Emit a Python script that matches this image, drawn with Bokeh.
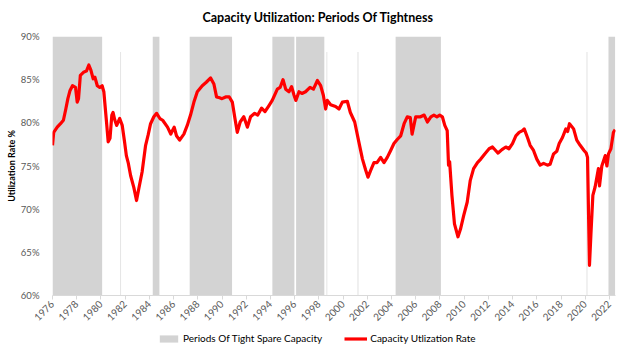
import math
from bokeh.plotting import figure
from bokeh.layouts import column
from bokeh.models import Range1d, FixedTicker, Legend, LegendItem, ColumnDataSource
from bokeh.embed import file_html
from bokeh.resources import INLINE

# ---------------- data ----------------
years = [
    1976.00, 1976.10, 1976.39, 1976.66, 1976.90, 1977.10, 1977.27, 1977.45, 1977.65, 1977.90,
    1978.04, 1978.15, 1978.30, 1978.60, 1978.80, 1979.00, 1979.17, 1979.36, 1979.50, 1979.70,
    1979.90, 1980.10, 1980.24, 1980.46, 1980.60, 1980.75, 1980.90, 1981.00, 1981.15, 1981.30,
    1981.55, 1981.76, 1981.95, 1982.10, 1982.25, 1982.45, 1982.72, 1982.94, 1983.13, 1983.40,
    1983.69, 1983.90, 1984.10, 1984.37, 1984.60, 1984.87, 1985.10, 1985.50, 1985.77, 1986.05,
    1986.24, 1986.50, 1986.85, 1987.13, 1987.40, 1987.68, 1987.96, 1988.37, 1988.70, 1989.06,
    1989.33, 1989.55, 1989.80, 1990.00, 1990.30, 1990.60, 1990.85, 1991.07, 1991.26, 1991.50,
    1991.80, 1992.10, 1992.36, 1992.70, 1992.95, 1993.27, 1993.55, 1993.88, 1994.15, 1994.57,
    1994.80, 1995.04, 1995.26, 1995.53, 1995.75, 1995.95, 1996.10, 1996.36, 1996.60, 1996.90,
    1997.27, 1997.55, 1997.88, 1998.15, 1998.37, 1998.56, 1998.70, 1998.97, 1999.38, 1999.66,
    1999.94, 2000.35, 2000.60, 2000.96, 2001.30, 2001.60, 2001.87, 2002.06, 2002.28, 2002.55,
    2002.80, 2003.10, 2003.38, 2003.65, 2003.93, 2004.20, 2004.49, 2004.76, 2005.04, 2005.30,
    2005.55, 2005.70, 2006.00, 2006.40, 2006.70, 2006.97, 2007.25, 2007.50, 2007.75, 2007.98,
    2008.20, 2008.40, 2008.60, 2008.71, 2008.80, 2008.99, 2009.20, 2009.49, 2009.70, 2009.97,
    2010.25, 2010.50, 2010.78, 2011.10, 2011.37, 2011.70, 2012.06, 2012.34, 2012.60, 2012.80,
    2013.12, 2013.44, 2013.70, 2013.99, 2014.27, 2014.54, 2014.82, 2014.96, 2015.23, 2015.45,
    2015.73, 2016.00, 2016.28, 2016.56, 2016.88, 2017.10, 2017.38, 2017.65, 2017.85, 2018.12,
    2018.40, 2018.55, 2018.70, 2019.04, 2019.30, 2019.58, 2019.90, 2020.08, 2020.19, 2020.35,
    2020.47, 2020.63, 2020.82, 2021.09, 2021.18, 2021.37, 2021.65, 2021.79, 2021.92, 2022.12,
    2022.33, 2022.47,
]
utilization = [
    77.4, 78.9, 79.5, 79.9, 80.3, 81.6, 82.8, 83.75, 84.3, 84.1,
    82.4, 82.8, 85.5, 85.9, 86.0, 86.7, 86.1, 85.1, 85.3, 84.3,
    84.1, 84.3, 83.6, 80.1, 77.8, 78.2, 80.9, 81.2, 80.3, 79.7,
    80.5, 79.7, 77.8, 76.2, 75.4, 73.9, 72.5, 71.0, 72.4, 74.3,
    77.4, 78.6, 79.9, 80.7, 81.1, 80.5, 80.3, 79.5, 78.7, 79.5,
    78.5, 78.0, 78.7, 79.7, 80.9, 82.4, 83.6, 84.3, 84.7, 85.2,
    84.5, 83.0, 82.9, 82.8, 83.0, 83.0, 82.4, 80.5, 78.9, 80.1,
    80.7, 79.5, 80.7, 81.1, 80.9, 81.7, 81.3, 82.0, 82.6, 83.9,
    84.1, 85.0, 83.9, 83.6, 84.2, 83.2, 82.6, 83.6, 83.4, 83.6,
    84.1, 83.9, 84.9, 84.3, 83.2, 81.6, 82.6, 82.1, 81.9, 81.6,
    82.4, 82.5, 81.2, 80.1, 77.8, 75.8, 74.5, 73.7, 74.5, 75.4,
    75.4, 76.0, 75.4, 76.0, 76.8, 77.6, 78.1, 78.5, 79.9, 80.7,
    80.6, 78.7, 80.7, 80.7, 80.9, 80.1, 80.7, 80.9, 80.7, 80.9,
    80.7, 79.7, 79.1, 75.1, 75.5, 71.6, 68.3, 66.8, 67.7, 69.3,
    70.8, 73.3, 74.7, 75.4, 75.8, 76.4, 77.0, 77.2, 76.8, 76.5,
    76.9, 77.2, 77.0, 77.6, 78.5, 78.9, 79.1, 79.3, 78.3, 77.4,
    76.8, 75.8, 75.1, 75.3, 75.1, 75.2, 76.4, 76.7, 77.6, 78.3,
    79.3, 79.0, 79.9, 79.3, 78.0, 77.4, 76.8, 76.5, 76.0, 63.5,
    67.1, 71.6, 72.6, 74.7, 72.7, 75.0, 76.2, 75.0, 76.4, 77.0,
    78.9, 79.2,
]

# periods of tight spare capacity (start, end in decimal years)
tight_start = [1976.00, 1984.28, 1987.33, 1994.16, 1996.12, 2004.34, 2021.92]
tight_end = [1980.10, 1984.83, 1990.83, 1995.98, 1998.45, 2008.08, 2022.47]
# brief (single-month) tight readings
brief_start = [1981.58, 1998.62, 2001.18, 2020.10]
brief_end = [1981.66, 1998.70, 2001.28, 2020.19]

year_ticks = list(range(1976, 2023, 2))
pct_ticks = [60, 65, 70, 75, 80, 85, 90]
pct_labels = ["60%", "65%", "70%", "75%", "80%", "85%", "90%"]

FONT = "Lato"
GREY_TXT = "#595959"
SHADE = "#d3d3d3"
RED = "#ff0000"

p = figure(width=631, height=326, output_backend="svg", toolbar_location=None,
           x_range=Range1d(1976, 2022.5), y_range=Range1d(60, 90),
           min_border_left=52, min_border_right=16, min_border_top=36, min_border_bottom=31)
p.outline_line_color = None
p.xgrid.visible = False
p.ygrid.visible = False

p.title.text = "Capacity Utilization: Periods Of Tightness"
p.title.align = "left"
p.title.offset = 150
p.title.vertical_align = "top"
p.title.text_font = FONT
p.title.text_font_style = "bold"
p.title.text_font_size = "12.5px"
p.title.text_color = "black"
p.title.standoff = 19

shade_src = ColumnDataSource(dict(left=tight_start, right=tight_end))
brief_src = ColumnDataSource(dict(left=brief_start, right=brief_end))
p.quad(left="left", right="right", bottom=60, top=90, source=shade_src,
       fill_color=SHADE, line_color=None)
p.quad(left="left", right="right", bottom=60, top=88.2, source=brief_src,
       fill_color=SHADE, fill_alpha=0.6, line_color=None)

p.line(years, utilization, line_color=RED, line_width=3.2, line_join="round")

# axes
p.xaxis.ticker = FixedTicker(ticks=year_ticks)
p.xaxis.major_label_overrides = {y: str(y) for y in year_ticks}
p.xaxis.major_label_orientation = math.pi / 4
p.xaxis.axis_line_color = "#d9d9d9"
p.xaxis.major_tick_line_color = "#d9d9d9"
p.xaxis.major_tick_out = 4
p.xaxis.major_tick_in = 0
p.xaxis.minor_tick_line_color = None
p.xaxis.major_label_text_color = GREY_TXT
p.xaxis.major_label_text_font = FONT
p.xaxis.major_label_text_font_size = "10px"
p.xaxis.major_label_standoff = 3

p.yaxis.ticker = FixedTicker(ticks=pct_ticks)
p.yaxis.major_label_overrides = dict(zip(pct_ticks, pct_labels))
p.yaxis.axis_line_color = None
p.yaxis.major_tick_line_color = None
p.yaxis.minor_tick_line_color = None
p.yaxis.major_label_text_color = GREY_TXT
p.yaxis.major_label_text_font = FONT
p.yaxis.major_label_text_font_size = "9.5px"
p.yaxis.major_label_standoff = 7
p.yaxis.axis_label = "Utilization Rate %"
p.yaxis.axis_label_text_font = FONT
p.yaxis.axis_label_text_font_style = "bold"
p.yaxis.axis_label_text_font_size = "9px"
p.yaxis.axis_label_text_color = "black"
p.yaxis.axis_label_standoff = 1

# legend strip below the chart (sample glyphs sit outside its visible range)
lf = figure(width=631, height=33, output_backend="svg", toolbar_location=None,
            x_range=Range1d(0, 1), y_range=Range1d(0, 1),
            x_axis_location=None, y_axis_location=None,
            min_border_left=0, min_border_right=0, min_border_top=0, min_border_bottom=0)
lf.grid.visible = False
lf.outline_line_color = None
sample = ColumnDataSource(dict(left=[-3], right=[-2], x=[-3], y=[-3]))
lq = lf.quad(left="left", right="right", bottom=-3, top=-2, source=sample,
             fill_color=SHADE, line_color=None)
ll = lf.line(x="x", y="y", source=sample, line_color=RED, line_width=3.2)
legend = Legend(items=[LegendItem(label="Periods Of Tight Spare Capacity", renderers=[lq]),
                       LegendItem(label="Capacity Utlization Rate", renderers=[ll])],
                orientation="horizontal", location=(105, 15),
                border_line_color=None, background_fill_alpha=0,
                padding=0, margin=0, spacing=22,
                glyph_width=23, glyph_height=9, label_height=12, label_standoff=3,
                label_text_font=FONT, label_text_font_size="10px", label_text_color="black")
lf.add_layout(legend)

layout = column(p, lf, spacing=0)
open("out.html", "w").write(file_html(layout, INLINE))
